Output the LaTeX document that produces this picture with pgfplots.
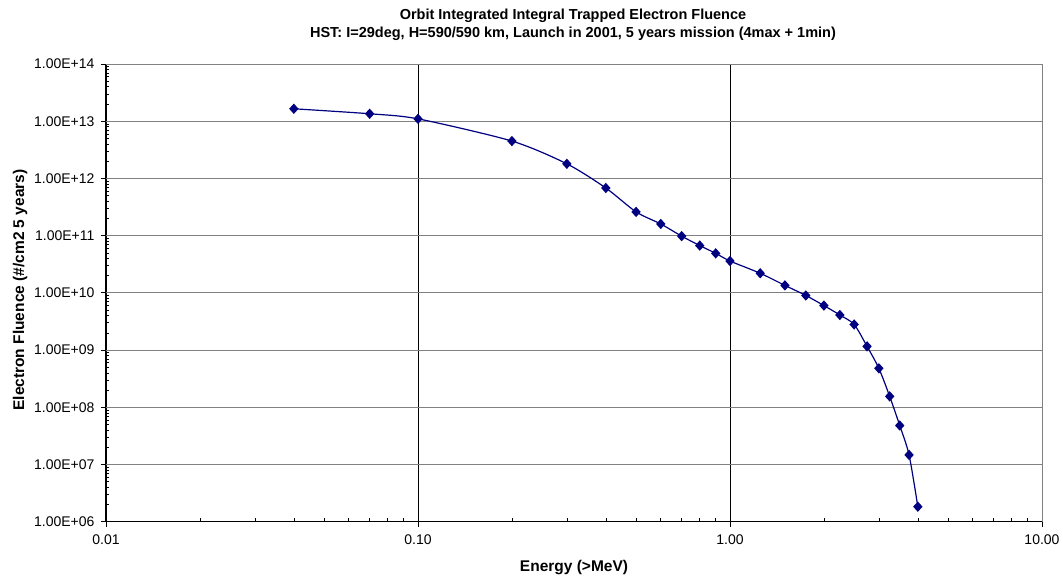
\documentclass[border=0pt]{standalone}
\usepackage{fontspec}
\setmainfont{Liberation Sans}
\usepackage{pgfplots}
\pgfplotsset{compat=1.18}
\definecolor{navyline}{HTML}{000080}
\definecolor{gridgray}{HTML}{808080}
\pgfplotstableread{
x y
0.04 1.65e13
0.07 1.35e13
0.10 1.10e13
0.20 4.5e12
0.30 1.8e12
0.40 6.8e11
0.50 2.6e11
0.60 1.6e11
0.70 9.8e10
0.80 6.7e10
0.90 4.9e10
1.00 3.6e10
1.25 2.2e10
1.50 1.35e10
1.75 9.0e9
2.00 6.0e9
2.25 4.1e9
2.50 2.8e9
2.75 1.16e9
3.00 4.8e8
3.25 1.55e8
3.50 4.8e7
3.75 1.47e7
4.00 1.83e6
}\fluence
\begin{document}
\begin{tikzpicture}[x=1pt,y=1pt]
\useasboundingbox (0,0) rectangle (1063,-579);
\node[font=\fontsize{14.5}{17}\selectfont\bfseries, anchor=base] at (573,-19.5) {Orbit Integrated Integral Trapped Electron Fluence};
\node[font=\fontsize{14.5}{17}\selectfont\bfseries, anchor=base] at (573,-37.5) {HST: I=29deg, H=590/590 km, Launch in 2001, 5 years mission (4max + 1min)};
\node[font=\fontsize{15.5}{18}\selectfont\bfseries, anchor=base] at (574,-571) {Energy (>MeV)};
\node[font=\fontsize{15.5}{18}\selectfont\bfseries, rotate=90, anchor=base] at (24,-290) {Electron Fluence (\#/cm2 5 years)};
\begin{axis}[
  at={(106pt,-521.7pt)}, anchor=south west,
  scale only axis, width=936pt, height=457.7pt,
  xmode=log, ymode=log,
  xmin=0.01, xmax=10, ymin=1e6, ymax=1e14,
  xtick={0.01,0.1,1,10},
  xticklabels={0.01,0.10,1.00,10.00},
  ytick={1e6,1e7,1e8,1e9,1e10,1e11,1e12,1e13,1e14},
  yticklabels={1.00E+06,1.00E+07,1.00E+08,1.00E+09,1.00E+10,1.00E+11,1.00E+12,1.00E+13,1.00E+14},
  minor xtick={0.02,0.03,0.04,0.05,0.06,0.07,0.08,0.09,0.2,0.3,0.4,0.5,0.6,0.7,0.8,0.9,2,3,4,5,6,7,8,9},
  minor ytick={2e6,3e6,4e6,5e6,6e6,7e6,8e6,9e6,
               2e7,3e7,4e7,5e7,6e7,7e7,8e7,9e7,
               2e8,3e8,4e8,5e8,6e8,7e8,8e8,9e8,
               2e9,3e9,4e9,5e9,6e9,7e9,8e9,9e9,
               2e10,3e10,4e10,5e10,6e10,7e10,8e10,9e10,
               2e11,3e11,4e11,5e11,6e11,7e11,8e11,9e11,
               2e12,3e12,4e12,5e12,6e12,7e12,8e12,9e12,
               2e13,3e13,4e13,5e13,6e13,7e13,8e13,9e13},
  tick pos=left,
  tick align=inside,
  major tick length=5pt, minor tick length=3.5pt,
  major x tick style={yshift=-5pt, black, line width=0.8pt},
  major y tick style={xshift=-5pt, black, line width=0.8pt},
  minor tick style={black, line width=0.6pt},
  xmajorgrids, ymajorgrids,
  major x grid style={black, line width=0.8pt},
  major y grid style={gridgray, line width=1pt},
  axis line style={draw=gridgray, line width=1pt},
  ticklabel style={font=\fontsize{14}{16}\selectfont},
  yticklabel style={xshift=-8pt},
  xticklabel style={yshift=-9pt},
  clip=false,
]
\addplot[color=navyline, line width=1.2pt, smooth, tension=0.45,
  mark=diamond*, mark size=4.3pt, mark options={solid, fill=navyline, draw=navyline, xscale=1.2}]
  table[x=x, y=y] {\fluence};
\draw[gridgray, line width=1pt] (rel axis cs:1,0) -- (rel axis cs:1,1);
\draw[black, line width=1pt] (rel axis cs:0,1) -- (rel axis cs:0,0) -- (rel axis cs:1,0);
\end{axis}
\end{tikzpicture}
\end{document}
